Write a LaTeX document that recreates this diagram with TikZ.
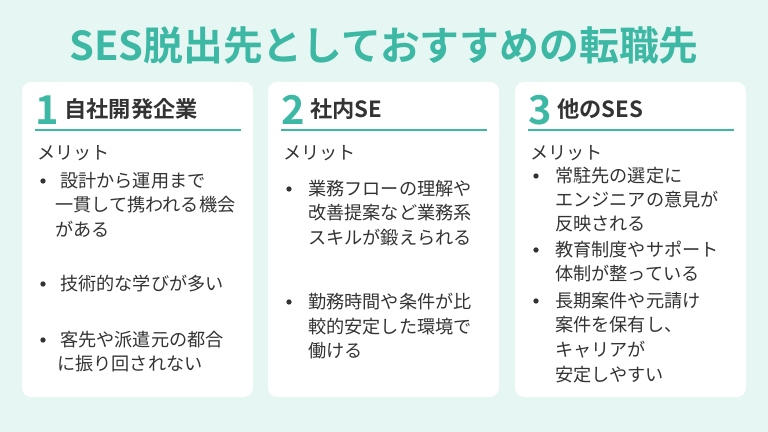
\documentclass[tikz,border=0pt]{standalone}
\usepackage{fontspec}
\setmainfont{Noto Sans CJK JP}[BoldFont={Noto Sans CJK JP Bold}]
\definecolor{bgmint}{HTML}{E6F6F3}
\definecolor{teal}{HTML}{3DB8A4}
\definecolor{ink}{HTML}{333333}
\tikzset{
  card/.style={fill=white,rounded corners=8pt,draw=none},
  num/.style={anchor=west,text=teal,font=\fontsize{34}{34}\selectfont\bfseries,inner sep=0pt},
  head/.style={anchor=west,text=ink,font=\fontsize{19}{19}\selectfont\bfseries,inner sep=0pt},
  body/.style={anchor=west,text=ink,font=\fontsize{15.5}{15.5}\selectfont,inner sep=0pt},
  dot/.style={fill=ink,circle,inner sep=0pt,minimum size=4.5pt}
}
\begin{document}
\begin{tikzpicture}[x=0.03cm,y=-0.03cm]
  \fill[bgmint] (0,0) rectangle (768,432);
  \useasboundingbox (0,0) rectangle (768,432);
  % Title
  \node[text=teal,font=\fontsize{34}{34}\selectfont\bfseries] (title) at (384,45) {SES脱出先としておすすめの転職先};
  % Cards
  \foreach \x/\n/\t in {22/1/自社開発企業,268/2/社内SE,515/3/他のSES}{
    \fill[card] (\x,82) rectangle ++(231,315);
    \node[num] (num\n) at (\x+13,110) {\n};
    \node[head,anchor=west] (head\n) at (\x+42,109) {\t};
    \draw[teal,line width=1.5pt] (\x+13,130) -- ++(206,0);
    \node[body] (merit\n) at (\x+15,153) {メリット};
  }
  % Card 1
  \node[dot] (b11) at (43,181) {};
  \node[body] (t11) at (60,181) {設計から運用まで};
  \node[body] (t12) at (55,205) {一貫して携われる機会};
  \node[body] (t13) at (55,229) {がある};
  \node[dot] (b12) at (43,284) {};
  \node[body] (t14) at (60,284) {技術的な学びが多い};
  \node[dot] (b13) at (43,340) {};
  \node[body] (t15) at (60,340) {客先や派遣元の都合};
  \node[body] (t16) at (57,364) {に振り回されない};
  % Card 2
  \node[dot] (b21) at (289,189) {};
  \node[body] (t21) at (308,189) {業務フローの理解や};
  \node[body] (t22) at (308,213) {改善提案など業務系};
  \node[body] (t23) at (308,238) {スキルが鍛えられる};
  \node[dot] (b22) at (289,302) {};
  \node[body] (t24) at (308,302) {勤務時間や条件が比};
  \node[body] (t25) at (308,327) {較的安定した環境で};
  \node[body] (t26) at (308,351) {働ける};
  % Card 3
  \node[dot] (b31) at (536,176) {};
  \node[body] (t31) at (555,176) {常駐先の選定に};
  \node[body] (t32) at (555,200) {エンジニアの意見が};
  \node[body] (t33) at (555,224) {反映される};
  \node[dot] (b32) at (536,250) {};
  \node[body] (t34) at (555,250) {教育制度やサポート};
  \node[body] (t35) at (555,274) {体制が整っている};
  \node[dot] (b33) at (536,301) {};
  \node[body] (t36) at (555,301) {長期案件や元請け};
  \node[body] (t37) at (555,325) {案件を保有し、};
  \node[body] (t38) at (555,350) {キャリアが};
  \node[body] (t39) at (555,375) {安定しやすい};
\end{tikzpicture}
\end{document}
